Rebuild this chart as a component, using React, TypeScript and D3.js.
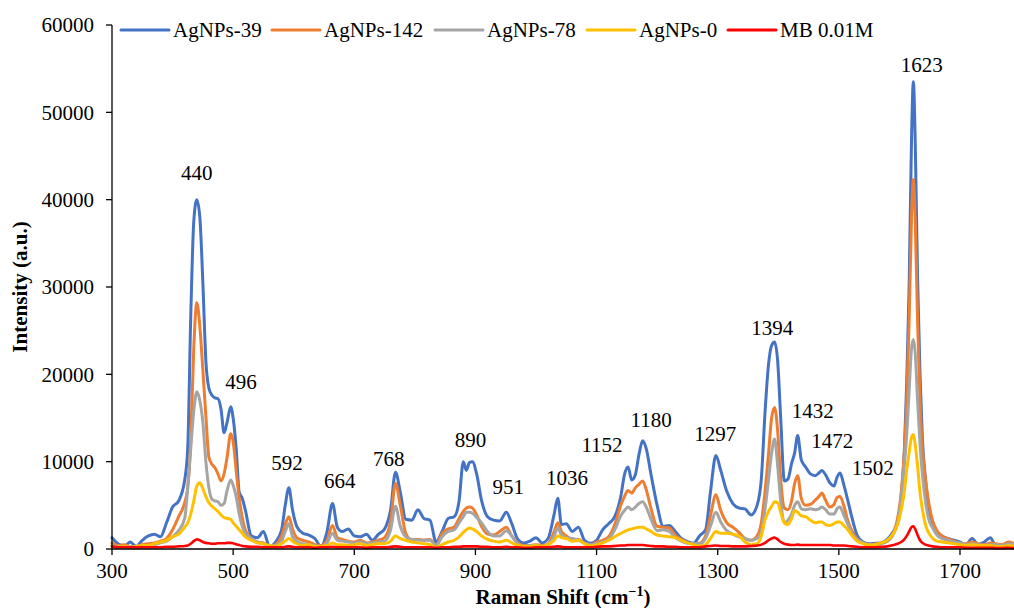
import * as d3 from 'd3';

// Raman shift grid (cm-1), shared by every spectrum
const shifts = [
  300, 310, 320, 330, 340, 350, 360, 370, 380, 390,
  400, 410, 420, 425, 430, 435, 440, 445, 450, 455,
  460, 465, 470, 475, 480, 485, 490, 496, 500, 505,
  510, 515, 520, 530, 540, 550, 560, 570, 580, 586,
  592, 598, 605, 615, 625, 635, 645, 655, 664, 672,
  680, 690, 700, 710, 720, 730, 740, 750, 760, 768,
  776, 785, 795, 805, 815, 825, 835, 845, 855, 865,
  873, 880, 885, 890, 895, 902, 910, 920, 930, 940,
  951, 960, 970, 980, 990, 1000, 1010, 1020, 1030, 1036,
  1042, 1050, 1060, 1070, 1080, 1090, 1100, 1110, 1120, 1130,
  1140, 1146, 1152, 1158, 1164, 1170, 1176, 1182, 1190, 1200,
  1210, 1220, 1230, 1240, 1250, 1260, 1270, 1280, 1288, 1297,
  1305, 1315, 1325, 1335, 1345, 1355, 1365, 1372, 1378, 1384,
  1389, 1394, 1399, 1404, 1410, 1416, 1422, 1427, 1432, 1438,
  1445, 1453, 1461, 1467, 1472, 1478, 1485, 1492, 1497, 1502,
  1508, 1515, 1522, 1530, 1540, 1550, 1560, 1570, 1580, 1590,
  1597, 1603, 1608, 1612, 1616, 1620, 1623, 1626, 1630, 1634,
  1638, 1643, 1648, 1655, 1662, 1670, 1680, 1690, 1700, 1710,
  1720, 1730, 1740, 1750, 1760, 1770, 1780, 1790,
];

const agnps39 = [
  1300, 600, 300, 800, 300, 1000, 1500, 1700, 1400, 3000,
  4800, 5500, 7900, 11500, 26600, 37500, 40000, 38000, 30500, 21500,
  18400, 17600, 17300, 17200, 16000, 13300, 14500, 16300, 15000, 11500,
  6500, 5800, 4500, 1500, 1300, 2000, 300, 800, 2200, 5000,
  7000, 4500, 2600, 1800, 1600, 1200, 300, 2000, 5200, 2500,
  2000, 2300, 1500, 1400, 1700, 1000, 1700, 2300, 4500, 8800,
  6500, 3400, 3300, 4500, 3500, 3300, 800, 2000, 3500, 3700,
  5500, 10000, 9000, 9900, 10000, 8600, 5600, 3700, 3300, 3200,
  4200, 2900, 1100, 700, 900, 1300, 700, 1200, 4000, 5800,
  2800, 2900, 2000, 2500, 1000, 650, 1000, 2200, 2900, 3700,
  6000, 8500, 9400, 7900, 8500, 10800, 12400, 11500, 8500, 5000,
  2600, 2700, 2000, 1200, 850, 650, 1500, 2200, 6500, 10700,
  9000, 6600, 5200, 4700, 4600, 3900, 5000, 8000, 15500, 21200,
  23300, 23700, 21500, 15000, 7800, 8000, 9800, 11000, 13000, 10200,
  9400, 8600, 8400, 8700, 9000, 8500, 7600, 7200, 8200, 8700,
  7400, 5500, 3500, 1600, 800, 600, 650, 700, 1100, 2000,
  3000, 6000, 11000, 19000, 30000, 47000, 53500, 47000, 31000, 20000,
  12500, 8000, 5000, 3000, 2000, 1500, 1200, 1000, 800, 500,
  1200, 500, 800, 1300, 300, 300, 700, 500,
];

const agnps142 = [
  700, 400, 500, 300, 300, 500, 600, 700, 900, 1200,
  2200, 3700, 5300, 7000, 12500, 23000, 28200, 25500, 20500, 15200,
  10500, 9700, 9300, 8600, 7800, 8600, 10500, 13200, 12300, 9000,
  5800, 3600, 2200, 1200, 800, 700, 300, 500, 1500, 2800,
  3700, 2300, 1300, 1000, 800, 500, 400, 1000, 2700, 1300,
  1100, 900, 800, 1000, 700, 800, 1000, 1300, 3200, 7500,
  5000, 1800, 1000, 1100, 1000, 1100, 400, 1800, 2300, 2500,
  3500, 4300, 4700, 4800, 4700, 3900, 2600, 1700, 1600, 2000,
  2500, 1500, 700, 400, 400, 500, 400, 600, 2000, 3000,
  2000, 1500, 1100, 1100, 650, 450, 800, 1000, 1400, 2800,
  5000, 6000, 6700, 6400, 7000, 7400, 7800, 6800, 4600, 2600,
  2500, 2400, 1600, 1100, 700, 600, 650, 1500, 3800, 6200,
  4400, 3000, 2500, 1900, 1200, 1000, 1500, 3000, 6500, 11000,
  15000, 16200, 13500, 8000, 4700, 4500, 5500, 7500, 8400, 5800,
  5000, 5100, 5600, 6000, 6400, 5600, 4800, 5100, 5900, 6000,
  5000, 3200, 2000, 1200, 700, 500, 600, 700, 900, 1800,
  3500, 6500, 11000, 17000, 26000, 38000, 42300, 38000, 26000, 17000,
  11500, 8000, 5500, 3200, 2100, 1500, 1200, 900, 700, 600,
  800, 600, 500, 700, 600, 500, 800, 600,
];

const agnps78 = [
  400, 300, 300, 300, 200, 300, 400, 500, 700, 900,
  1400, 2100, 3500, 7000, 11500, 15800, 18000, 17000, 14500, 10000,
  7000, 5700, 5500, 5400, 5000, 5200, 6700, 7900, 7300, 6000,
  4000, 2600, 1800, 1200, 800, 600, 300, 400, 900, 2000,
  2900, 1400, 900, 600, 500, 400, 300, 700, 1800, 1000,
  900, 800, 700, 800, 600, 700, 800, 900, 2200, 4900,
  2600, 1400, 1100, 1000, 1000, 1000, 400, 1400, 2000, 2200,
  3000, 3700, 4200, 4200, 4100, 3600, 3000, 2000, 1500, 1500,
  2100, 1500, 600, 300, 400, 400, 300, 500, 1500, 2400,
  1600, 1300, 1200, 1000, 700, 500, 600, 800, 1100, 2200,
  3800, 4400, 4800, 4500, 4800, 5200, 5400, 4800, 3400, 2100,
  2200, 2000, 1300, 900, 650, 600, 600, 1200, 2600, 4200,
  3100, 2100, 1700, 1400, 1200, 1000, 1200, 2000, 4500, 8000,
  11000, 12600, 9500, 5500, 3000, 3300, 4000, 5000, 5400, 4600,
  4500, 4600, 4500, 4600, 4800, 4500, 4000, 4000, 4600, 4800,
  3900, 2800, 1700, 1100, 700, 500, 500, 600, 900, 1700,
  3000, 6000, 9500, 13000, 18000, 23000, 24000, 22500, 17000, 12000,
  8500, 5500, 3500, 2400, 1600, 1200, 1000, 800, 700, 500,
  600, 500, 400, 500, 500, 400, 600, 500,
];

const agnps0 = [
  300, 200, 300, 200, 300, 400, 400, 600, 800, 1000,
  1400, 1700, 2500, 3000, 4000, 5500, 7200, 7600, 6900, 6000,
  5300, 4900, 4600, 4300, 3900, 3600, 3500, 3400, 3000, 2600,
  2200, 1800, 1400, 1000, 700, 600, 400, 300, 600, 900,
  1200, 900, 600, 400, 500, 300, 300, 400, 700, 500,
  500, 400, 500, 600, 400, 500, 600, 600, 900, 1500,
  1200, 1000, 800, 700, 600, 500, 200, 500, 800, 1000,
  1400, 1900, 2200, 2400, 2300, 2000, 1500, 1100, 900, 800,
  1000, 700, 400, 300, 300, 400, 300, 500, 1000, 1500,
  1300, 1200, 900, 1000, 600, 350, 500, 700, 1000, 1400,
  1800, 2000, 2200, 2300, 2400, 2500, 2500, 2300, 2000, 1600,
  1500, 1400, 1300, 1000, 700, 500, 350, 500, 1200, 2000,
  1800, 1800, 1700, 1500, 800, 500, 600, 1500, 3300, 4300,
  4900, 5400, 5300, 4200, 3000, 2800, 3500, 4400, 4200, 3800,
  3700, 3300, 3000, 3100, 3100, 2800, 2700, 2900, 3100, 3100,
  2700, 2200, 1500, 900, 600, 450, 500, 700, 1000, 1800,
  2800, 4500, 6500, 9000, 11000, 12800, 13100, 12000, 9500, 6500,
  4500, 2800, 1900, 1200, 900, 800, 700, 600, 500, 400,
  500, 400, 400, 400, 300, 300, 400, 300,
];

const mb001 = [
  300, 200, 200, 200, 200, 200, 200, 200, 200, 250,
  250, 300, 350, 400, 600, 900, 1100, 1000, 800, 700,
  650, 600, 600, 650, 650, 650, 700, 700, 650, 550,
  450, 350, 300, 250, 250, 200, 200, 200, 200, 250,
  300, 250, 200, 200, 200, 150, 200, 200, 250, 200,
  200, 200, 200, 200, 150, 200, 200, 200, 250, 300,
  250, 200, 200, 200, 200, 200, 150, 200, 200, 250,
  250, 300, 300, 300, 300, 300, 250, 250, 200, 200,
  250, 200, 200, 150, 150, 200, 200, 200, 250, 300,
  250, 200, 200, 200, 200, 200, 250, 300, 300, 350,
  400, 400, 450, 450, 450, 450, 450, 400, 350, 300,
  300, 250, 250, 200, 200, 200, 200, 300, 350, 400,
  350, 350, 300, 300, 300, 350, 400, 500, 700, 1000,
  1200, 1300, 1100, 800, 600, 500, 450, 450, 500, 450,
  450, 450, 450, 450, 450, 450, 450, 400, 400, 400,
  400, 350, 300, 250, 200, 200, 200, 250, 300, 450,
  600, 800, 1100, 1500, 2000, 2500, 2600, 2300, 1600, 1000,
  700, 500, 400, 300, 250, 200, 200, 200, 200, 150,
  150, 150, 150, 150, 100, 100, 150, 100,
];

const seriesNames = ['AgNPs-39', 'AgNPs-142', 'AgNPs-78', 'AgNPs-0', 'MB 0.01M'];
const seriesColors = ['#4472C4', '#ED7D31', '#A5A5A5', '#FFC000', '#FF0000'];
const seriesValues = [agnps39, agnps142, agnps78, agnps0, mb001];

// peak annotations: text, and where the label sits (shift, intensity)
const peakText = ['440', '496', '592', '664', '768', '890', '951', '1036', '1152', '1180', '1297', '1394', '1432', '1472', '1502', '1623'];
const peakLabelX = [440, 513, 589, 676, 757, 892, 954, 1051, 1109, 1190, 1296, 1390, 1457, 1489, 1556, 1637];
const peakLabelY = [43050, 19120, 9850, 7790, 10300, 12480, 7100, 8130, 11900, 14770, 13170, 25300, 15800, 12370, 9270, 55500];

const xTicks = [300, 500, 700, 900, 1100, 1300, 1500, 1700];
const yTicks = [0, 10000, 20000, 30000, 40000, 50000, 60000];

const W = 1014;
const H = 608;
const FONT = "'Liberation Serif', 'Times New Roman', 'DejaVu Serif', serif";
const txt = { fontFamily: FONT, fontSize: '21px' };
const legendX = [121, 272, 435, 587, 728];

export default function App() {
  const x = d3.scaleLinear().domain([300, 1790]).range([112, 1014.5]);
  const y = d3.scaleLinear().domain([0, 60000]).range([549, 25]);

  const line = d3.line<number>()
    .x((_, i) => x(shifts[i]))
    .y(d => y(d))
    .curve(d3.curveMonotoneX);

  return (
    <svg width={W} height={H} style={{ position: 'absolute', left: 0, top: 0, background: '#fff' }}>
      <rect width={W} height={H} fill="#fff" />

      {/* spectra */}
      {seriesValues.map((vals, i) => (
        <path key={seriesNames[i]} d={line(vals) || ''} fill="none"
          stroke={seriesColors[i]} strokeWidth={i === 4 ? 2.6 : 3}
          strokeLinejoin="round" strokeLinecap="round" />
      ))}

      {/* axes */}
      <line x1={112} x2={112} y1={y(60000)} y2={y(0)} stroke="#000" strokeWidth={1.3} />
      <line x1={112} x2={W} y1={y(0)} y2={y(0)} stroke="#000" strokeWidth={1.3} />
      {yTicks.map(t => (
        <g key={t}>
          <line x1={106} x2={112} y1={y(t)} y2={y(t)} stroke="#000" strokeWidth={1.3} />
          <text x={94} y={y(t)} dy="0.35em" textAnchor="end" style={txt} fill="#000">{t}</text>
        </g>
      ))}
      {xTicks.map(t => (
        <g key={t}>
          <line x1={x(t)} x2={x(t)} y1={549} y2={555} stroke="#000" strokeWidth={1.3} />
          <text x={x(t)} y={578} textAnchor="middle" style={txt} fill="#000">{t}</text>
        </g>
      ))}

      {/* axis titles */}
      <text x={563} y={604} textAnchor="middle" style={{ ...txt, fontWeight: 'bold' }} fill="#000">
        Raman Shift (cm<tspan dy={-8} style={{ fontSize: '14px' }}>−1</tspan><tspan dy={8}>)</tspan>
      </text>
      <text transform="translate(27,287) rotate(-90)" textAnchor="middle"
        style={{ ...txt, fontWeight: 'bold' }} fill="#000">Intensity (a.u.)</text>

      {/* peak labels */}
      {peakText.map((t, i) => (
        <text key={t} x={x(peakLabelX[i])} y={y(peakLabelY[i])} dy="0.35em"
          textAnchor="middle" style={txt} fill="#000">{t}</text>
      ))}

      {/* legend */}
      {seriesNames.map((n, i) => (
        <g key={n} transform={`translate(${legendX[i]},30)`}>
          <line x1={0} x2={48} y1={0} y2={0} stroke={seriesColors[i]} strokeWidth={3} strokeLinecap="round" />
          <text x={52} y={0} dy="0.35em" style={txt} fill="#000">{n}</text>
        </g>
      ))}
    </svg>
  );
}
